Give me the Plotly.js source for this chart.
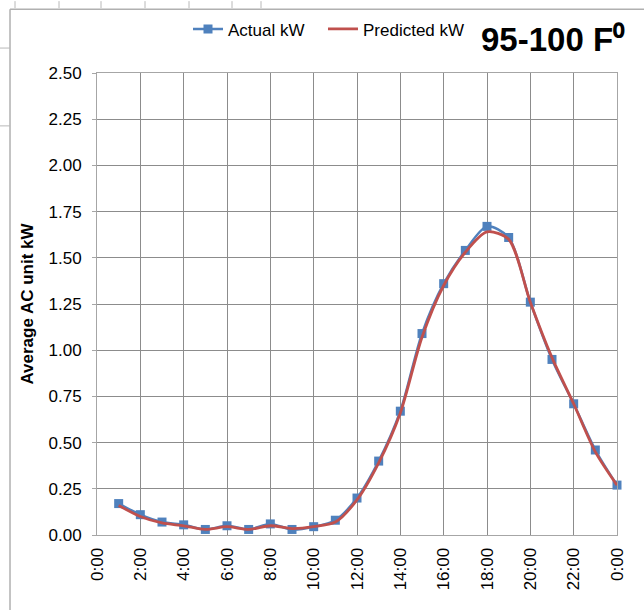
<!DOCTYPE html>
<html>
<head>
<meta charset="utf-8">
<script src="https://cdn.plot.ly/plotly-3.0.1.min.js"></script>
<style>
  html, body { margin: 0; padding: 0; background: #ffffff; }
  #chart { width: 644px; height: 610px; }
</style>
</head>
<body>
<div id="chart"></div>
<script>
// Hours of day (1:00 .. 24:00 shown as 0:00)
var hours = [1, 2, 3, 4, 5, 6, 7, 8, 9, 10, 11, 12, 13, 14, 15, 16, 17, 18, 19, 20, 21, 22, 23, 24];
var actualKW = [0.17, 0.11, 0.07, 0.055, 0.03, 0.05, 0.03, 0.06, 0.03, 0.045, 0.08, 0.20, 0.40, 0.67, 1.09, 1.36, 1.54, 1.67, 1.61, 1.26, 0.95, 0.71, 0.46, 0.27];
var predictedKW = [0.16, 0.10, 0.065, 0.05, 0.03, 0.045, 0.03, 0.05, 0.035, 0.045, 0.07, 0.19, 0.39, 0.66, 1.07, 1.35, 1.53, 1.64, 1.60, 1.26, 0.96, 0.71, 0.45, 0.27];
var xTickVals = [0, 2, 4, 6, 8, 10, 12, 14, 16, 18, 20, 22, 24];
var xTickText = ["0:00", "2:00", "4:00", "6:00", "8:00", "10:00", "12:00", "14:00", "16:00", "18:00", "20:00", "22:00", "0:00"];
var yTickVals = [0, 0.25, 0.5, 0.75, 1.0, 1.25, 1.5, 1.75, 2.0, 2.25, 2.5];

var font = "Liberation Sans, Arial, sans-serif";
var gridColor = "#8c8c8c";

var traces = [
  {
    x: hours, y: actualKW, name: "Actual kW", legend: "legend",
    type: "scatter", mode: "lines+markers",
    line: { color: "#4F81BD", width: 2.5, shape: "spline", smoothing: 0.8 },
    marker: { symbol: "square", size: 9, color: "#4F81BD" },
    cliponaxis: false
  },
  {
    x: hours, y: predictedKW, name: "Predicted kW", legend: "legend2",
    type: "scatter", mode: "lines",
    line: { color: "#C0504D", width: 2.8, shape: "spline", smoothing: 0.8 },
    cliponaxis: false
  }
];

var legendFont = { family: font, size: 17, color: "#000000" };

var layout = {
  width: 644, height: 610,
  margin: { l: 97, r: 27, t: 72, b: 75 },
  paper_bgcolor: "#ffffff",
  plot_bgcolor: "#ffffff",
  font: { family: font, size: 17, color: "#000000" },
  showlegend: true,
  legend: {
    orientation: "h", x: 0.175, y: 1.092, xanchor: "left", yanchor: "middle",
    font: legendFont, bgcolor: "rgba(0,0,0,0)"
  },
  legend2: {
    orientation: "h", x: 0.4346, y: 1.092, xanchor: "left", yanchor: "middle",
    font: legendFont, bgcolor: "rgba(0,0,0,0)"
  },
  xaxis: {
    range: [0, 24], tickvals: xTickVals, ticktext: xTickText,
    tickangle: -90, showgrid: true, gridcolor: gridColor, gridwidth: 1,
    showline: true, linecolor: "#a6a6a6", linewidth: 1, mirror: true,
    ticks: "", zeroline: false, ticklabelstandoff: 5,
    tickfont: { family: font, size: 17, color: "#000000" }
  },
  yaxis: {
    range: [0, 2.5], tickvals: yTickVals, tickformat: ".2f",
    showgrid: true, gridcolor: gridColor, gridwidth: 1,
    showline: true, linecolor: "#a6a6a6", linewidth: 1, mirror: true,
    ticks: "outside", ticklen: 4, tickcolor: "#a6a6a6", zeroline: false,
    ticklabelstandoff: 7,
    tickfont: { family: font, size: 17, color: "#000000" },
    title: { text: "<b>Average AC unit kW</b>", font: { family: font, size: 17, color: "#000000" }, standoff: 10 }
  },
  annotations: [
    {
      text: "<b>95-100 F⁰</b>", xref: "paper", yref: "paper",
      x: 1.02, y: 1.073, xanchor: "right", yanchor: "middle",
      showarrow: false, font: { family: font, size: 33, color: "#000000" }
    }
  ],
  shapes: [
    // chart area border
    { type: "line", xref: "paper", yref: "paper", x0: -0.1673, x1: 1.06, y0: 1.1382, y1: 1.1382, line: { color: "#b0b0b0", width: 1.5 } },
    { type: "line", xref: "paper", yref: "paper", x0: -0.1673, x1: -0.1673, y0: 1.1382, y1: -0.17, line: { color: "#b0b0b0", width: 1.5 } }
  ]
};

// spreadsheet cell lines above the chart area
var cellX = [15, 59, 101, 145, 189, 232, 261];
cellX.forEach(function (px) {
  var xp = (px - 97) / 520;
  layout.shapes.push({ type: "line", xref: "paper", yref: "paper", x0: xp, x1: xp, y0: (535 - 0) / 463, y1: (535 - 7) / 463, line: { color: "#b8b8b8", width: 1 } });
});
[47, 125].forEach(function (py) {
  var yp = (535 - py) / 463;
  layout.shapes.push({ type: "line", xref: "paper", yref: "paper", x0: -97 / 520, x1: -87 / 520, y0: yp, y1: yp, line: { color: "#b8b8b8", width: 1 } });
});

Plotly.newPlot("chart", traces, layout, { displayModeBar: false, staticPlot: true });
</script>
</body>
</html>
